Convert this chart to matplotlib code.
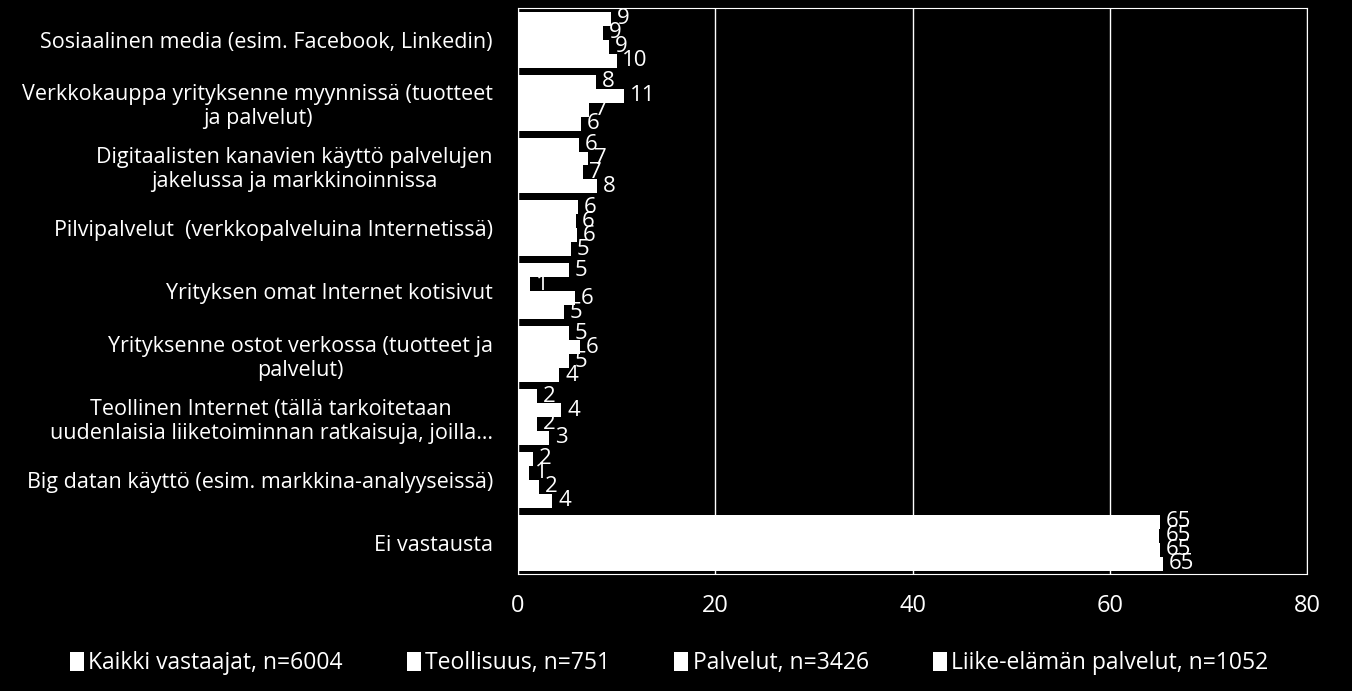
import numpy as np
from matplotlib import pyplot as plt

categories = [
    'Sosiaalinen media (esim. Facebook, Linkedin)',
    'Verkkokauppa yrityksenne myynnissä (tuotteet\nja palvelut)',
    'Digitaalisten kanavien käyttö palvelujen\njakelussa ja markkinoinnissa',
    'Pilvipalvelut  (verkkopalveluina Internetissä)',
    'Yrityksen omat Internet kotisivut',
    'Yrityksenne ostot verkossa (tuotteet ja\npalvelut)',
    'Teollinen Internet (tällä tarkoitetaan\n'
    'uudenlaisia liiketoiminnan ratkaisuja, joilla…',
    'Big datan käyttö (esim. markkina-analyyseissä)',
    'Ei vastausta',
]
series_names = ['Kaikki vastaajat, n=6004', 'Teollisuus, n=751',
                'Palvelut, n=3426', 'Liike-elämän palvelut, n=1052']
kaikki = [9.4, 7.9, 6.2, 6.1, 5.2, 5.2, 1.9, 1.5, 65.1]
teollisuus = [8.6, 10.8, 7.1, 5.9, 1.2, 6.3, 4.4, 1.1, 65.0]
palvelut = [9.2, 7.2, 6.6, 6.0, 5.8, 5.2, 1.9, 2.1, 65.1]
liike = [10.0, 6.4, 8.0, 5.4, 4.7, 4.2, 3.2, 3.5, 65.4]
values = [kaikki, teollisuus, palvelut, liike]

plt.rcParams['font.family'] = ['Open Sans', 'DejaVu Sans']
fig = plt.figure(figsize=(13.52, 6.91), dpi=100, facecolor='black')
ax = fig.add_axes([0.383, 0.169, 0.584, 0.819], facecolor='black')

n = len(categories)
h = 0.222
y = np.arange(n)
for i, vals in enumerate(values):
    pos = y - 1.5 * h + i * h
    ax.barh(pos, vals, height=h, color='white', label=series_names[i],
            zorder=3)
    for p, v in zip(pos, vals):
        ax.text(v + 0.6, p, f'{v:.0f}', color='white', fontsize=16,
                va='center', ha='left', zorder=4)

ax.set_xlim(0, 80)
ax.set_ylim(n - 0.5, -0.5)
ax.set_xticks([0, 20, 40, 60, 80])
ax.set_yticks(y)
ax.set_yticklabels(categories, multialignment='center')
ax.tick_params(axis='y', length=0, pad=18, labelsize=15.5, colors='white')
ax.tick_params(axis='x', length=0, pad=14, labelsize=17, colors='white')
ax.grid(axis='x', color='white', linewidth=1, zorder=0)
for s in ax.spines.values():
    s.set_color('white')

leg = fig.legend(loc='center', bbox_to_anchor=(0.495, 0.04), ncol=4,
                 frameon=False, fontsize=16.5, handlelength=0.6,
                 handleheight=0.9, handletextpad=0.2, columnspacing=2.8)
for t in leg.get_texts():
    t.set_color('white')

fig.savefig('out.png', facecolor='black')
